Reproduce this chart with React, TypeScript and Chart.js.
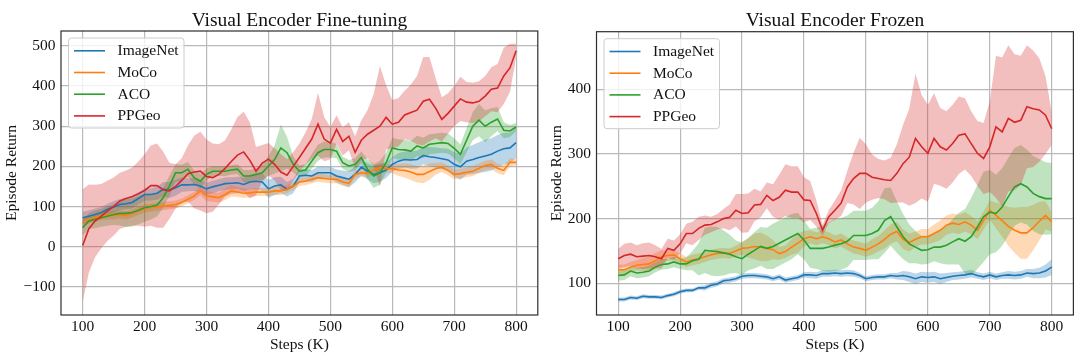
import React, { useEffect, useRef } from "react";
import { Chart, registerables } from "chart.js";
Chart.register(...registerables);

const FONT = "'Liberation Serif', 'Times New Roman', Times, serif";

// ---------- data ----------
const steps = [
  100, 110, 120, 130, 140, 150, 160, 170, 180, 190,
  200, 210, 220, 230, 240, 250, 260, 270, 280, 290,
  300, 310, 320, 330, 340, 350, 360, 370, 380, 390,
  400, 410, 420, 430, 440, 450, 460, 470, 480, 490,
  500, 510, 520, 530, 540, 550, 560, 570, 580, 590,
  600, 610, 620, 630, 640, 650, 660, 670, 680, 690,
  700, 710, 720, 730, 740, 750, 760, 770, 780, 790, 800,
];
const xTicks = [100, 200, 300, 400, 500, 600, 700, 800];
const yTicksFineTune = [-100, 0, 100, 200, 300, 400, 500];
const yTicksFrozen = [100, 200, 300, 400];
const methods = ["ImageNet", "MoCo", "ACO", "PPGeo"];
const colors = ["#1f77b4", "#ff7f0e", "#2ca02c", "#d62728"];
const bandColors = [
  "rgba(31,119,180,0.3)",
  "rgba(255,127,14,0.3)",
  "rgba(44,160,44,0.3)",
  "rgba(214,39,40,0.3)",
];

// Fine-tuning panel
const ftImageNetMean = [
  72, 76, 80, 85, 93, 99, 105, 107, 110, 120,
  130, 130, 133, 143, 141, 147, 154, 154, 155, 151,
  144, 149, 153, 157, 158, 159, 155, 161, 163, 161,
  144, 151, 154, 143, 151, 176, 178, 176, 184, 184,
  184, 176, 172, 168, 180, 198, 188, 180, 184, 191,
  205, 213, 217, 216, 217, 227, 224, 222, 219, 216,
  205, 199, 213, 217, 222, 226, 230, 238, 244, 246, 259,
];
const ftImageNetStd = [
  15, 15, 15, 14, 14, 14, 14, 14, 15, 15,
  15, 15, 16, 18, 20, 20, 18, 16, 16, 15,
  15, 15, 15, 15, 15, 15, 16, 18, 20, 22,
  22, 22, 20, 18, 18, 16, 15, 15, 15, 15,
  15, 16, 18, 20, 20, 20, 20, 22, 22, 20,
  18, 20, 20, 22, 22, 22, 24, 25, 26, 28,
  30, 32, 34, 36, 38, 40, 40, 40, 40, 38, 38,
];
const ftMoCoMean = [
  60, 68, 72, 76, 78, 78, 80, 78, 83, 89,
  95, 97, 100, 101, 103, 105, 110, 118, 126, 139,
  126, 124, 122, 130, 139, 136, 133, 134, 136, 136,
  136, 139, 139, 143, 151, 161, 163, 168, 172, 170,
  168, 168, 161, 158, 180, 184, 182, 191, 197, 194,
  195, 191, 190, 186, 180, 180, 187, 194, 198, 190,
  180, 182, 185, 188, 195, 202, 205, 195, 190, 210, 210,
];
const ftMoCoStd = [
  10, 10, 10, 10, 10, 10, 10, 10, 10, 10,
  10, 10, 10, 10, 10, 10, 10, 10, 10, 10,
  12, 12, 12, 14, 14, 12, 12, 10, 10, 10,
  10, 10, 10, 10, 10, 10, 10, 10, 10, 10,
  10, 10, 10, 10, 10, 10, 10, 10, 10, 10,
  12, 15, 18, 20, 20, 22, 20, 15, 12, 12,
  12, 12, 12, 12, 12, 12, 12, 12, 12, 10, 8,
];
const ftACOMean = [
  47, 64, 68, 72, 76, 80, 83, 83, 85, 91,
  97, 100, 103, 122, 151, 184, 184, 193, 172, 163,
  180, 188, 188, 188, 191, 193, 176, 176, 180, 184,
  201, 217, 246, 234, 205, 188, 191, 213, 234, 242,
  242, 238, 209, 201, 205, 222, 193, 176, 184, 209,
  246, 242, 241, 238, 251, 246, 255, 257, 259, 257,
  245, 230, 265, 300, 315, 300, 310, 318, 290, 288, 298,
];
const ftACOStd = [
  20, 20, 22, 22, 24, 26, 30, 34, 35, 35,
  35, 32, 28, 25, 25, 22, 20, 18, 18, 18,
  15, 12, 12, 12, 12, 12, 15, 15, 15, 18,
  25, 35, 58, 40, 20, 15, 15, 18, 20, 20,
  20, 18, 15, 15, 15, 15, 25, 30, 30, 25,
  25, 25, 25, 25, 25, 25, 25, 25, 25, 25,
  25, 25, 30, 35, 40, 40, 35, 30, 20, 15, 10,
];
const ftPPGeoMean = [
  3, 45, 64, 76, 89, 100, 114, 120, 125, 132,
  140, 152, 152, 142, 139, 150, 165, 182, 186, 188,
  175, 172, 180, 195, 212, 228, 236, 215, 188, 208,
  218, 205, 186, 178, 200, 222, 245, 268, 305, 268,
  258, 292, 262, 275, 235, 265, 280, 290, 300, 322,
  305, 310, 328, 334, 340, 362, 367, 345, 317, 332,
  350, 368, 360, 358, 362, 375, 392, 395, 425, 445, 488,
];
const ftPPGeoStd = [
  140, 110, 90, 80, 75, 72, 70, 70, 72, 80,
  90, 100, 105, 95, 70, 55, 55, 70, 90, 98,
  92, 85, 75, 70, 80, 95, 100, 95, 60, 45,
  40, 40, 45, 40, 35, 35, 40, 50, 78, 55,
  40, 35, 35, 35, 40, 50, 60, 90, 150, 80,
  60, 60, 60, 70, 85, 110, 105, 75, 55, 50,
  50, 55, 50, 50, 50, 50, 55, 60, 70, 60, 17,
];

// Frozen panel
const frImageNetMean = [
  75, 75, 78, 77, 80, 79, 79, 78, 81, 83,
  87, 89, 89, 93, 93, 97, 99, 104, 105, 107,
  111, 112, 112, 111, 110, 107, 110, 105, 107, 109,
  113, 113, 112, 115, 115, 116, 115, 116, 115, 112,
  107, 109, 110, 110, 112, 111, 112, 110, 107, 110,
  109, 110, 107, 109, 111, 112, 113, 115, 112, 110,
  113, 110, 112, 113, 112, 113, 116, 115, 116, 119, 125,
];
const frImageNetStd = [
  3, 3, 3, 3, 3, 3, 3, 3, 3, 3,
  3, 3, 3, 3, 4, 4, 4, 4, 4, 4,
  4, 4, 4, 4, 4, 4, 4, 4, 4, 4,
  4, 5, 5, 5, 5, 5, 5, 5, 5, 4,
  4, 4, 4, 4, 4, 5, 7, 8, 8, 8,
  8, 8, 8, 7, 6, 6, 6, 6, 5, 5,
  5, 5, 5, 6, 6, 6, 6, 7, 8, 10, 12,
];
const frMoCoMean = [
  121, 121, 125, 128, 129, 130, 135, 141, 143, 144,
  138, 133, 136, 138, 141, 144, 146, 147, 146, 150,
  154, 155, 157, 156, 154, 152, 146, 149, 156, 162,
  169, 172, 169, 172, 169, 164, 167, 161, 156, 154,
  151, 156, 161, 168, 176, 180, 168, 163, 168, 172,
  172, 177, 182, 190, 193, 191, 195, 190, 182, 197,
  213, 205, 197, 188, 182, 178, 178, 186, 196, 205, 195,
];
const frMoCoStd = [
  8, 8, 8, 8, 10, 12, 12, 10, 8, 8,
  8, 8, 8, 8, 8, 8, 8, 8, 8, 8,
  10, 15, 20, 22, 20, 15, 10, 10, 12, 15,
  12, 10, 10, 10, 10, 10, 10, 10, 10, 10,
  10, 12, 12, 14, 15, 15, 15, 14, 12, 12,
  12, 14, 15, 15, 15, 15, 15, 14, 14, 14,
  15, 20, 25, 30, 35, 40, 40, 35, 30, 22, 15,
];
const frACOMean = [
  112, 113, 119, 116, 117, 119, 125, 129, 130, 133,
  130, 130, 135, 137, 151, 150, 149, 147, 145, 141,
  138, 145, 151, 157, 154, 157, 162, 167, 172, 177,
  167, 154, 154, 154, 156, 159, 161, 165, 174, 174,
  174, 177, 182, 197, 203, 187, 172, 161, 156, 151,
  152, 156, 156, 159, 164, 169, 165, 172, 187, 203,
  210, 208, 218, 234, 249, 254, 249, 239, 234, 231, 231,
];
const frACOStd = [
  8, 8, 8, 8, 8, 8, 8, 8, 8, 8,
  8, 10, 15, 25, 35, 38, 38, 35, 30, 25,
  25, 25, 28, 30, 32, 35, 35, 35, 35, 32,
  30, 30, 32, 35, 38, 40, 40, 40, 38, 38,
  38, 40, 45, 50, 45, 40, 35, 30, 25, 22,
  22, 22, 25, 30, 35, 40, 50, 60, 65, 70,
  65, 60, 60, 60, 60, 60, 58, 58, 58, 56, 55,
];
const frPPGeoMean = [
  138, 143, 145, 141, 142, 143, 141, 138, 154, 151,
  161, 177, 177, 185, 190, 191, 195, 200, 202, 213,
  208, 209, 221, 222, 236, 228, 233, 244, 241, 241,
  229, 228, 208, 182, 203, 213, 224, 249, 262, 270,
  270, 264, 262, 260, 259, 270, 285, 295, 324, 311,
  301, 324, 311, 306, 316, 329, 331, 316, 301, 293,
  311, 342, 334, 355, 349, 352, 373, 370, 368, 360, 339,
];
const frPPGeoStd = [
  15, 18, 18, 18, 20, 20, 18, 15, 15, 15,
  15, 15, 18, 18, 15, 12, 12, 15, 20, 25,
  30, 30, 25, 20, 20, 25, 35, 40, 40, 40,
  35, 30, 20, 8, 10, 15, 20, 25, 40, 55,
  45, 35, 30, 30, 35, 45, 60, 75, 100, 80,
  75, 70, 60, 60, 60, 60, 55, 50, 50, 55,
  70, 110, 115, 113, 105, 100, 95, 90, 80, 60, 25,
];

// ---------- panel setup ----------
type PanelSpec = {
  title: string;
  means: number[][];
  stds: number[][];
  yMin: number;
  yMax: number;
  yTicks: number[];
  yAxisWidth: number;
  padRight: number;
  padTop: number;
  yLabelX: number;
};

const fineTune: PanelSpec = {
  title: "Visual Encoder Fine-tuning",
  means: [ftImageNetMean, ftMoCoMean, ftACOMean, ftPPGeoMean],
  stds: [ftImageNetStd, ftMoCoStd, ftACOStd, ftPPGeoStd],
  yMin: -170,
  yMax: 537,
  yTicks: yTicksFineTune,
  yAxisWidth: 61,
  padRight: 2.2,
  padTop: 31,
  yLabelX: 11.7,
};

const frozen: PanelSpec = {
  title: "Visual Encoder Frozen",
  means: [frImageNetMean, frMoCoMean, frACOMean, frPPGeoMean],
  stds: [frImageNetStd, frMoCoStd, frACOStd, frPPGeoStd],
  yMin: 51,
  yMax: 489,
  yTicks: yTicksFrozen,
  yAxisWidth: 56.5,
  padRight: 6.6,
  padTop: 31.7,
  yLabelX: 17.2,
};

function buildDatasets(p: PanelSpec) {
  const ds: any[] = [];
  for (let m = methods.length - 1; m >= 0; m--) {
    const mean = p.means[m];
    const sd = p.stds[m];
    ds.push({
      label: methods[m],
      data: steps.map((x, i) => ({ x, y: mean[i] })),
      borderColor: colors[m],
      borderWidth: 1.6,
      pointRadius: 0,
      fill: false,
      tension: 0,
    });
    ds.push({
      label: methods[m] + " upper",
      data: steps.map((x, i) => ({ x, y: mean[i] + sd[i] })),
      borderColor: "rgba(0,0,0,0)",
      borderWidth: 0,
      pointRadius: 0,
      backgroundColor: bandColors[m],
      fill: "+1",
      tension: 0,
    });
    ds.push({
      label: methods[m] + " lower",
      data: steps.map((x, i) => ({ x, y: mean[i] - sd[i] })),
      borderColor: "rgba(0,0,0,0)",
      borderWidth: 0,
      pointRadius: 0,
      fill: false,
      tension: 0,
    });
  }
  return ds;
}

function decorPlugin(p: PanelSpec) {
  return {
    id: "decor",
    afterDraw(chart: any) {
      const ctx = chart.ctx as CanvasRenderingContext2D;
      const a = chart.chartArea;
      const cx = (a.left + a.right) / 2;
      ctx.save();
      // spines
      ctx.strokeStyle = "#2e2e2e";
      ctx.lineWidth = 1.2;
      ctx.strokeRect(a.left, a.top, a.right - a.left, a.bottom - a.top);
      // title
      ctx.fillStyle = "#111";
      ctx.textAlign = "center";
      ctx.textBaseline = "alphabetic";
      ctx.font = `19.5px ${FONT}`;
      ctx.fillText(p.title, cx, 26);
      // axis titles
      ctx.font = `15.5px ${FONT}`;
      ctx.fillText("Steps (K)", cx, 348.5);
      ctx.save();
      ctx.translate(p.yLabelX, (a.top + a.bottom) / 2);
      ctx.rotate(-Math.PI / 2);
      ctx.textBaseline = "middle";
      ctx.fillText("Episode Return", 0, 0);
      ctx.restore();
      // legend
      const lx = a.left + 7.5;
      const ly = a.top + 7;
      ctx.beginPath();
      (ctx as any).roundRect(lx, ly, 115.5, 90, 3);
      ctx.fillStyle = "rgba(255,255,255,0.8)";
      ctx.fill();
      ctx.strokeStyle = "#cccccc";
      ctx.lineWidth = 1;
      ctx.stroke();
      ctx.font = `15.5px ${FONT}`;
      methods.forEach((name, i) => {
        const cy = a.top + 19.8 + i * 21.7;
        ctx.strokeStyle = colors[i];
        ctx.lineWidth = 1.6;
        ctx.beginPath();
        ctx.moveTo(a.left + 13, cy);
        ctx.lineTo(a.left + 44, cy);
        ctx.stroke();
        ctx.fillStyle = "#111";
        ctx.textAlign = "left";
        ctx.textBaseline = "middle";
        ctx.fillText(name, a.left + 56.5, cy + 0.5);
      });
      ctx.restore();
    },
  };
}

function ChartPanel({ p }: { p: PanelSpec }) {
  const ref = useRef<HTMLCanvasElement>(null);
  useEffect(() => {
    const chart = new Chart(ref.current as HTMLCanvasElement, {
      type: "line",
      data: { datasets: buildDatasets(p) },
      options: {
        responsive: false,
        animation: false,
        devicePixelRatio: 1,
        events: [],
        layout: { padding: { left: 0, right: p.padRight, top: p.padTop, bottom: 0 } },
        plugins: {
          legend: { display: false },
          title: { display: false },
          tooltip: { enabled: false },
          filler: { propagate: false, drawTime: "beforeDatasetsDraw" },
        } as any,
        scales: {
          x: {
            type: "linear",
            min: 65,
            max: 835,
            afterBuildTicks: (s: any) => {
              s.ticks = xTicks.map((v) => ({ value: v }));
            },
            afterFit: (s: any) => {
              s.height = 45;
            },
            grid: { color: "#b9b9b9", lineWidth: 1.2, drawTicks: false },
            border: { display: false },
            ticks: {
              font: { family: FONT, size: 15.5 },
              color: "#111",
              padding: 2.5,
              maxRotation: 0,
              autoSkip: false,
              callback: (v: any) => String(v),
            },
          },
          y: {
            type: "linear",
            min: p.yMin,
            max: p.yMax,
            afterBuildTicks: (s: any) => {
              s.ticks = p.yTicks.map((v) => ({ value: v }));
            },
            afterFit: (s: any) => {
              s.width = p.yAxisWidth;
            },
            grid: { color: "#b9b9b9", lineWidth: 1.2, drawTicks: false },
            border: { display: false },
            ticks: {
              font: { family: FONT, size: 15.5 },
              color: "#111",
              padding: 5.5,
              autoSkip: false,
              callback: (v: any) => (v < 0 ? "\u2212" + Math.abs(v) : String(v)),
            },
          },
        } as any,
      },
      plugins: [decorPlugin(p)],
    } as any);
    return () => chart.destroy();
  }, []);
  return (
    <canvas
      ref={ref}
      width={540}
      height={360}
      style={{ display: "block", width: 540, height: 360 }}
    />
  );
}

export default function App() {
  return (
    <div
      style={{
        position: "fixed",
        left: 0,
        top: 0,
        width: 1080,
        height: 360,
        display: "flex",
        background: "#ffffff",
      }}
    >
      <ChartPanel p={fineTune} />
      <ChartPanel p={frozen} />
    </div>
  );
}
